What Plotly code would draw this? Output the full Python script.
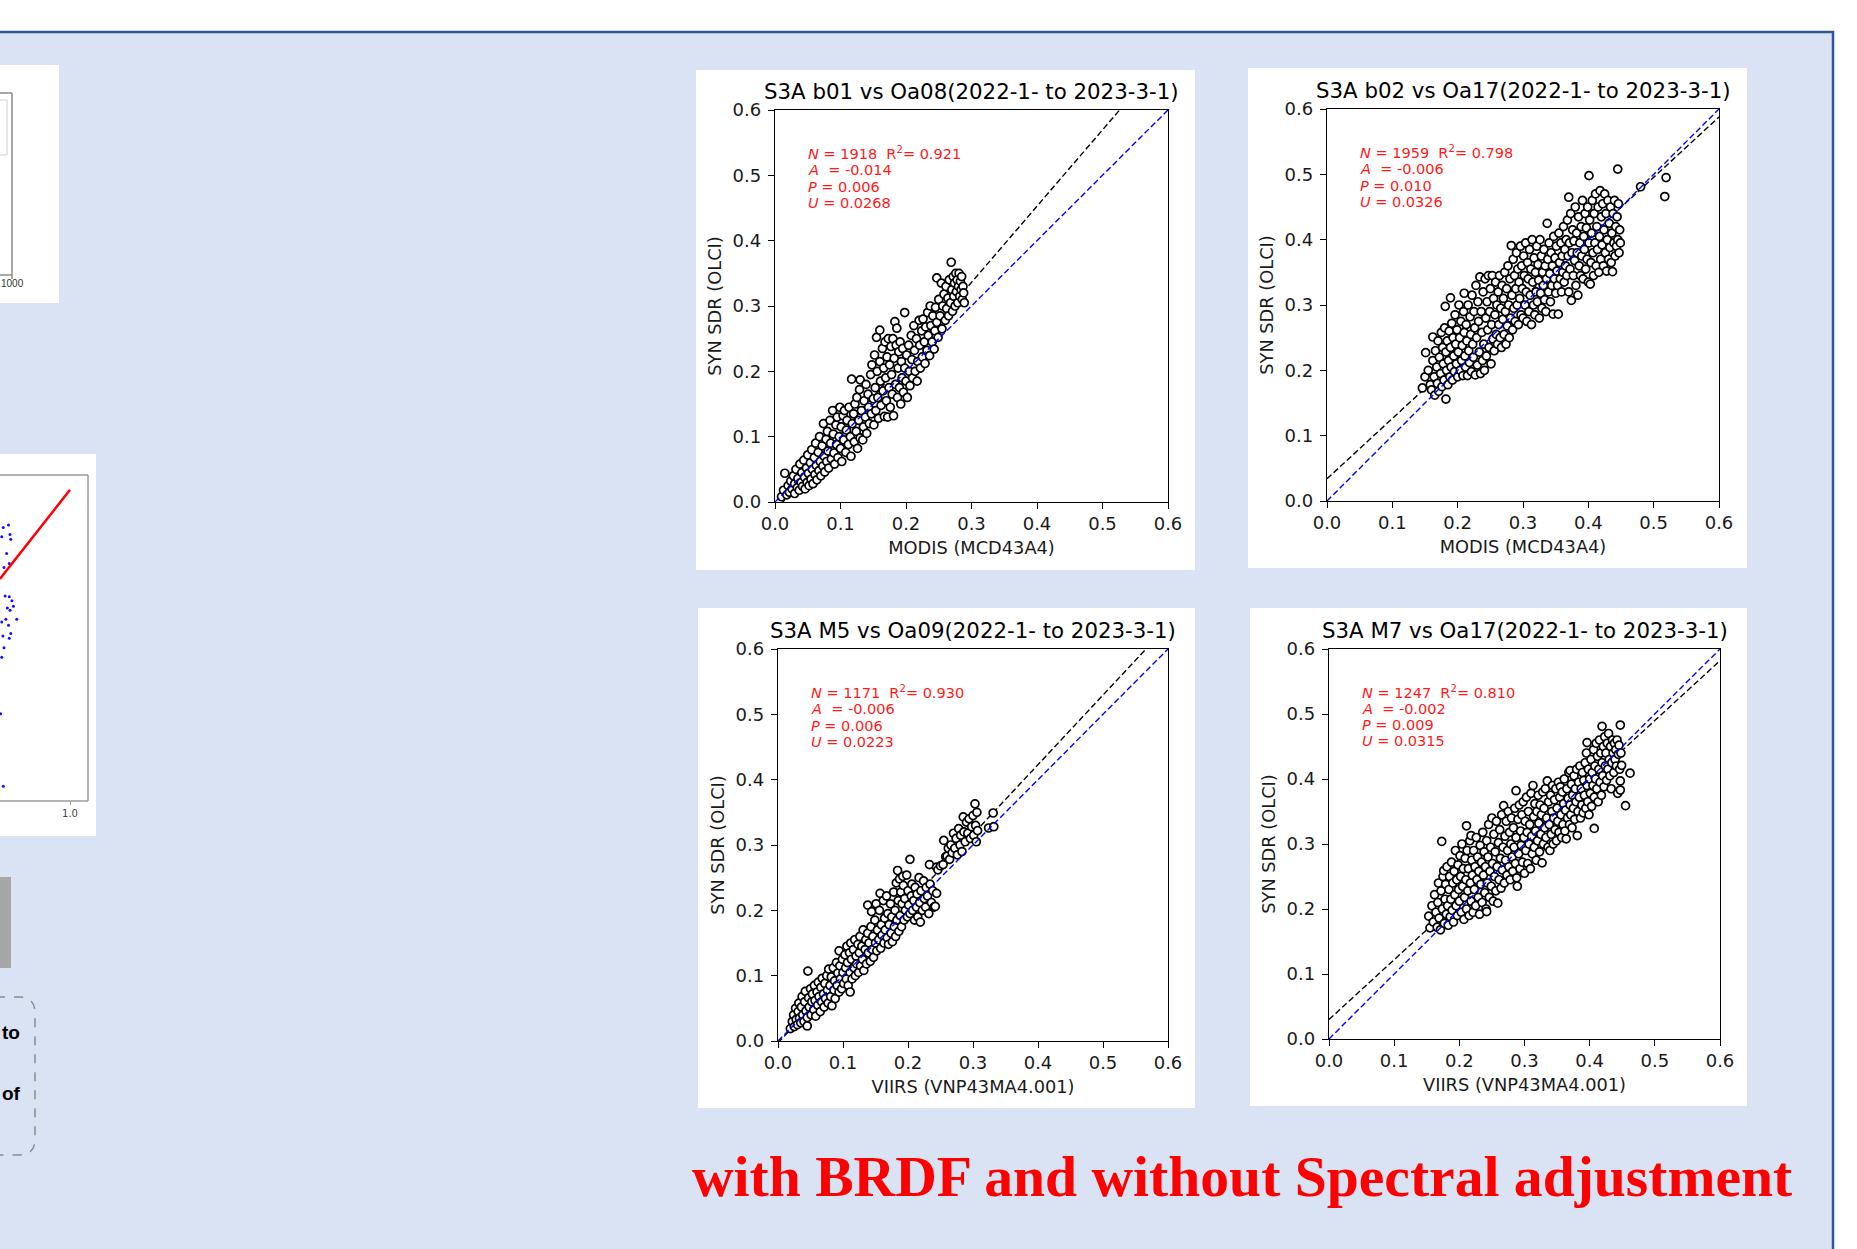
import plotly.graph_objects as go

W, H = 1857, 1249

# ---------------- data ----------------
panel_titles = [
    "S3A b01 vs Oa08(2022-1- to 2023-3-1)",
    "S3A b02 vs Oa17(2022-1- to 2023-3-1)",
    "S3A M5 vs Oa09(2022-1- to 2023-3-1)",
    "S3A M7 vs Oa17(2022-1- to 2023-3-1)",
]
x_titles = ["MODIS (MCD43A4)", "MODIS (MCD43A4)", "VIIRS (VNP43MA4.001)", "VIIRS (VNP43MA4.001)"]
y_title = "SYN SDR (OLCI)"
tick_values = [0.0, 0.1, 0.2, 0.3, 0.4, 0.5, 0.6]

stats_N = ["1918", "1959", "1171", "1247"]
stats_R2 = ["0.921", "0.798", "0.930", "0.810"]
stats_A = ["-0.014", "-0.006", "-0.006", "-0.002"]
stats_P = ["0.006", "0.010", "0.006", "0.009"]
stats_U = ["0.0268", "0.0326", "0.0223", "0.0315"]

fit_slope = [1.167, 0.923, 1.065, 0.920]
fit_intercept = [-0.014, 0.034, -0.003, 0.030]

caption = "with BRDF and without Spectral adjustment"

b01_points = [
(0.010,0.008),(0.013,0.018),(0.015,0.044),(0.018,0.011),(0.020,0.025),(0.022,0.015),(0.024,0.032),(0.026,0.020),(0.028,0.040),(0.030,0.013),
(0.030,0.028),(0.032,0.050),(0.034,0.022),(0.035,0.036),(0.037,0.018),(0.038,0.058),(0.040,0.030),(0.041,0.045),(0.042,0.024),(0.044,0.064),
(0.045,0.038),(0.046,0.020),(0.048,0.052),(0.049,0.030),(0.050,0.072),(0.051,0.044),(0.052,0.025),(0.054,0.060),(0.055,0.035),(0.056,0.080),
(0.057,0.050),(0.058,0.028),(0.060,0.068),(0.061,0.042),(0.062,0.090),(0.063,0.056),(0.064,0.034),(0.066,0.076),(0.067,0.048),(0.068,0.100),
(0.069,0.062),(0.070,0.040),(0.072,0.086),(0.073,0.055),(0.074,0.120),(0.075,0.070),(0.076,0.046),(0.078,0.096),(0.079,0.062),(0.080,0.108),
(0.081,0.078),(0.082,0.052),(0.084,0.125),(0.085,0.090),(0.086,0.066),(0.088,0.140),(0.089,0.104),(0.090,0.075),(0.091,0.058),(0.093,0.118),
(0.094,0.088),(0.095,0.130),(0.096,0.068),(0.098,0.100),(0.099,0.145),(0.100,0.082),(0.101,0.115),(0.102,0.062),(0.104,0.132),(0.105,0.095),
(0.106,0.140),(0.108,0.076),(0.109,0.110),(0.110,0.125),(0.112,0.088),(0.113,0.145),(0.115,0.100),(0.116,0.070),(0.117,0.188),(0.118,0.120),
(0.120,0.135),(0.121,0.092),(0.122,0.150),(0.124,0.108),(0.125,0.160),(0.126,0.082),(0.128,0.125),(0.129,0.172),(0.130,0.187),(0.130,0.098),
(0.132,0.140),(0.134,0.095),(0.135,0.115),(0.136,0.155),(0.138,0.130),(0.139,0.180),(0.140,0.105),(0.142,0.165),(0.143,0.145),(0.144,0.120),
(0.146,0.195),(0.147,0.135),(0.148,0.210),(0.150,0.158),(0.151,0.118),(0.152,0.225),(0.153,0.175),(0.154,0.140),(0.155,0.252),(0.156,0.200),
(0.157,0.160),(0.158,0.128),(0.160,0.263),(0.160,0.215),(0.161,0.185),(0.162,0.148),(0.164,0.235),(0.165,0.170),(0.166,0.205),(0.167,0.131),
(0.168,0.245),(0.169,0.190),(0.170,0.155),(0.171,0.222),(0.172,0.130),(0.173,0.250),(0.174,0.175),(0.175,0.210),(0.176,0.145),(0.177,0.238),
(0.178,0.195),(0.179,0.165),(0.180,0.250),(0.181,0.132),(0.182,0.220),(0.183,0.276),(0.184,0.180),(0.185,0.240),(0.186,0.266),(0.187,0.160),
(0.188,0.205),(0.189,0.230),(0.190,0.175),(0.191,0.245),(0.192,0.150),(0.193,0.215),(0.194,0.190),(0.195,0.235),(0.196,0.168),(0.198,0.290),
(0.198,0.205),(0.200,0.185),(0.201,0.225),(0.202,0.160),(0.204,0.240),(0.205,0.200),(0.206,0.178),(0.208,0.255),(0.209,0.218),(0.210,0.190),
(0.212,0.270),(0.213,0.232),(0.214,0.200),(0.216,0.250),(0.217,0.185),(0.218,0.215),(0.220,0.278),(0.221,0.240),(0.222,0.205),(0.224,0.262),
(0.225,0.222),(0.226,0.280),(0.228,0.245),(0.229,0.212),(0.230,0.268),(0.232,0.232),(0.233,0.290),(0.234,0.255),(0.236,0.224),(0.237,0.300),
(0.238,0.270),(0.240,0.245),(0.241,0.285),(0.243,0.234),(0.244,0.262),(0.245,0.298),(0.247,0.343),(0.247,0.275),(0.249,0.252),(0.250,0.310),
(0.252,0.285),(0.254,0.335),(0.255,0.265),(0.256,0.300),(0.258,0.318),(0.260,0.278),(0.261,0.330),(0.262,0.296),(0.264,0.312),(0.265,0.285),
(0.266,0.340),(0.268,0.305),(0.269,0.367),(0.270,0.325),(0.271,0.292),(0.272,0.345),(0.273,0.315),(0.274,0.335),(0.275,0.300),(0.276,0.350),
(0.277,0.322),(0.278,0.340),(0.279,0.305),(0.280,0.330),(0.281,0.350),(0.282,0.315),(0.283,0.338),(0.284,0.325),(0.285,0.345),(0.286,0.310),
(0.287,0.330),(0.288,0.320),(0.289,0.305),
]

b02_points = [
(0.146,0.173),(0.151,0.227),(0.150,0.190),(0.155,0.200),(0.158,0.178),(0.160,0.170),(0.162,0.251),(0.162,0.215),(0.164,0.190),(0.165,0.162),
(0.166,0.230),(0.168,0.205),(0.169,0.180),(0.170,0.245),(0.171,0.168),(0.172,0.220),(0.174,0.195),(0.175,0.258),(0.176,0.175),(0.177,0.235),
(0.178,0.210),(0.179,0.185),(0.180,0.265),(0.181,0.298),(0.182,0.156),(0.182,0.228),(0.183,0.200),(0.184,0.245),(0.185,0.178),(0.186,0.215),
(0.187,0.260),(0.188,0.190),(0.189,0.311),(0.189,0.235),(0.190,0.205),(0.191,0.272),(0.192,0.185),(0.193,0.250),(0.194,0.222),(0.195,0.198),
(0.196,0.285),(0.197,0.240),(0.198,0.210),(0.199,0.262),(0.200,0.190),(0.201,0.228),(0.202,0.300),(0.203,0.250),(0.204,0.200),(0.205,0.275),
(0.206,0.215),(0.207,0.238),(0.208,0.192),(0.209,0.290),(0.210,0.318),(0.210,0.258),(0.211,0.222),(0.212,0.205),(0.213,0.270),(0.214,0.245),
(0.215,0.192),(0.216,0.300),(0.217,0.230),(0.218,0.212),(0.219,0.282),(0.220,0.255),(0.221,0.198),(0.222,0.315),(0.223,0.240),(0.224,0.220),
(0.225,0.290),(0.226,0.265),(0.227,0.193),(0.228,0.330),(0.229,0.250),(0.230,0.208),(0.231,0.305),(0.232,0.275),(0.233,0.228),(0.234,0.343),
(0.235,0.195),(0.236,0.290),(0.237,0.258),(0.238,0.215),(0.239,0.320),(0.240,0.240),(0.241,0.200),(0.242,0.340),(0.243,0.280),(0.244,0.222),
(0.245,0.305),(0.246,0.262),(0.247,0.345),(0.248,0.235),(0.249,0.290),(0.250,0.325),(0.251,0.210),(0.252,0.270),(0.253,0.345),(0.254,0.248),
(0.255,0.310),(0.256,0.230),(0.257,0.285),(0.258,0.335),(0.259,0.255),(0.260,0.300),(0.261,0.240),(0.262,0.320),(0.263,0.270),(0.264,0.345),
(0.265,0.250),(0.266,0.295),(0.267,0.235),(0.268,0.330),(0.269,0.278),(0.270,0.310),(0.271,0.255),(0.272,0.350),(0.273,0.290),(0.274,0.240),
(0.275,0.325),(0.276,0.268),(0.277,0.360),(0.278,0.300),(0.279,0.250),(0.280,0.340),(0.281,0.280),(0.282,0.391),(0.283,0.315),(0.284,0.262),
(0.285,0.370),(0.286,0.295),(0.287,0.345),(0.288,0.275),(0.289,0.325),(0.290,0.380),(0.291,0.300),(0.292,0.355),(0.293,0.270),(0.294,0.335),
(0.295,0.310),(0.296,0.390),(0.297,0.285),(0.298,0.360),(0.299,0.325),(0.300,0.280),(0.301,0.375),(0.302,0.345),(0.303,0.300),(0.304,0.395),
(0.305,0.320),(0.306,0.275),(0.307,0.365),(0.308,0.340),(0.309,0.290),(0.310,0.385),(0.311,0.315),(0.312,0.355),(0.313,0.270),(0.314,0.400),
(0.315,0.335),(0.316,0.300),(0.317,0.372),(0.318,0.285),(0.319,0.350),(0.320,0.320),(0.321,0.390),(0.322,0.305),(0.323,0.362),(0.324,0.338),
(0.325,0.280),(0.326,0.400),(0.327,0.318),(0.328,0.375),(0.329,0.295),(0.330,0.350),(0.331,0.330),(0.332,0.385),(0.333,0.308),(0.334,0.360),
(0.335,0.290),(0.336,0.340),(0.337,0.425),(0.338,0.370),(0.339,0.320),(0.340,0.395),(0.341,0.348),(0.342,0.305),(0.343,0.380),(0.344,0.330),
(0.345,0.360),(0.346,0.286),(0.347,0.405),(0.348,0.340),(0.349,0.372),(0.350,0.318),(0.351,0.390),(0.352,0.352),(0.353,0.330),(0.354,0.286),
(0.355,0.410),(0.356,0.365),(0.357,0.340),(0.358,0.395),(0.359,0.320),(0.360,0.375),(0.361,0.350),(0.362,0.420),(0.363,0.335),(0.364,0.385),
(0.365,0.360),(0.366,0.400),(0.367,0.345),(0.368,0.430),(0.369,0.375),(0.370,0.465),(0.370,0.320),(0.371,0.395),(0.372,0.355),(0.373,0.440),
(0.374,0.307),(0.375,0.380),(0.376,0.415),(0.377,0.345),(0.378,0.398),(0.379,0.368),(0.380,0.450),(0.381,0.330),(0.382,0.410),(0.383,0.380),
(0.384,0.315),(0.385,0.435),(0.386,0.360),(0.387,0.395),(0.388,0.345),(0.389,0.420),(0.390,0.375),(0.391,0.460),(0.392,0.340),(0.393,0.405),
(0.394,0.385),(0.395,0.440),(0.396,0.355),(0.397,0.418),(0.398,0.370),(0.399,0.450),(0.400,0.335),(0.401,0.498),(0.401,0.395),(0.402,0.430),
(0.403,0.332),(0.404,0.365),(0.405,0.410),(0.406,0.460),(0.407,0.380),(0.408,0.345),(0.409,0.440),(0.410,0.395),(0.411,0.470),(0.412,0.360),
(0.413,0.420),(0.414,0.385),(0.415,0.450),(0.416,0.350),(0.417,0.405),(0.418,0.475),(0.419,0.370),(0.420,0.435),(0.421,0.392),(0.422,0.455),
(0.423,0.360),(0.424,0.415),(0.425,0.470),(0.426,0.380),(0.427,0.440),(0.428,0.352),(0.429,0.400),(0.430,0.460),(0.431,0.370),(0.432,0.425),
(0.433,0.388),(0.434,0.450),(0.435,0.365),(0.436,0.410),(0.437,0.351),(0.438,0.440),(0.439,0.395),(0.440,0.460),(0.441,0.375),(0.442,0.420),
(0.443,0.390),(0.444,0.435),(0.445,0.508),(0.445,0.400),(0.446,0.455),(0.447,0.380),(0.448,0.415),(0.449,0.395),(0.480,0.481),(0.517,0.466),
(0.519,0.495),
]

m5_points = [
(0.019,0.019),(0.022,0.030),(0.024,0.040),(0.025,0.022),(0.027,0.050),(0.028,0.033),(0.030,0.025),(0.031,0.045),(0.032,0.058),(0.033,0.035),
(0.035,0.028),(0.036,0.052),(0.037,0.068),(0.038,0.040),(0.040,0.030),(0.041,0.060),(0.042,0.076),(0.043,0.046),(0.045,0.023),(0.045,0.036),
(0.046,0.107),(0.047,0.066),(0.048,0.052),(0.050,0.080),(0.051,0.040),(0.052,0.060),(0.053,0.072),(0.055,0.048),(0.056,0.085),(0.057,0.062),
(0.058,0.038),(0.060,0.075),(0.061,0.055),(0.062,0.090),(0.063,0.068),(0.065,0.045),(0.066,0.082),(0.067,0.060),(0.068,0.096),(0.070,0.072),
(0.071,0.052),(0.072,0.088),(0.073,0.065),(0.075,0.100),(0.076,0.078),(0.077,0.058),(0.078,0.110),(0.080,0.085),(0.081,0.068),(0.082,0.098),
(0.083,0.054),(0.085,0.112),(0.086,0.078),(0.087,0.092),(0.088,0.065),(0.090,0.120),(0.091,0.085),(0.092,0.104),(0.094,0.138),(0.094,0.075),
(0.095,0.115),(0.096,0.095),(0.098,0.080),(0.099,0.125),(0.100,0.105),(0.101,0.088),(0.103,0.132),(0.104,0.112),(0.105,0.095),(0.106,0.145),
(0.107,0.120),(0.108,0.085),(0.110,0.135),(0.111,0.075),(0.111,0.105),(0.112,0.150),(0.113,0.125),(0.114,0.095),(0.116,0.140),(0.117,0.112),
(0.118,0.155),(0.119,0.100),(0.120,0.130),(0.121,0.118),(0.123,0.148),(0.124,0.105),(0.125,0.135),(0.126,0.160),(0.127,0.115),(0.129,0.145),
(0.130,0.125),(0.131,0.170),(0.132,0.108),(0.134,0.140),(0.135,0.155),(0.136,0.118),(0.138,0.208),(0.138,0.165),(0.139,0.135),(0.140,0.150),
(0.142,0.122),(0.143,0.175),(0.144,0.198),(0.145,0.140),(0.146,0.160),(0.147,0.128),(0.149,0.185),(0.150,0.150),(0.151,0.210),(0.152,0.138),
(0.153,0.170),(0.155,0.155),(0.156,0.200),(0.157,0.226),(0.158,0.142),(0.159,0.178),(0.160,0.162),(0.162,0.215),(0.163,0.150),(0.164,0.188),
(0.165,0.170),(0.167,0.222),(0.168,0.158),(0.169,0.195),(0.170,0.148),(0.171,0.178),(0.173,0.210),(0.174,0.165),(0.175,0.190),(0.176,0.152),
(0.178,0.228),(0.179,0.175),(0.180,0.200),(0.181,0.160),(0.182,0.242),(0.183,0.185),(0.184,0.261),(0.185,0.215),(0.186,0.168),(0.187,0.248),
(0.188,0.192),(0.189,0.228),(0.190,0.175),(0.191,0.210),(0.192,0.252),(0.193,0.238),(0.194,0.185),(0.195,0.218),(0.196,0.200),(0.198,0.254),
(0.199,0.190),(0.200,0.230),(0.201,0.208),(0.203,0.278),(0.203,0.195),(0.205,0.222),(0.206,0.240),(0.207,0.200),(0.209,0.215),(0.210,0.185),
(0.211,0.235),(0.213,0.205),(0.214,0.225),(0.215,0.190),(0.217,0.250),(0.218,0.212),(0.219,0.182),(0.220,0.230),(0.222,0.200),(0.224,0.245),
(0.225,0.218),(0.227,0.205),(0.228,0.235),(0.230,0.222),(0.232,0.195),(0.233,0.270),(0.234,0.240),(0.236,0.212),(0.238,0.230),(0.240,0.205),
(0.242,0.206),(0.244,0.266),(0.244,0.226),(0.246,0.262),(0.250,0.268),(0.254,0.270),(0.255,0.307),(0.258,0.282),(0.260,0.283),(0.262,0.295),
(0.264,0.278),(0.266,0.300),(0.268,0.288),(0.270,0.318),(0.272,0.295),(0.274,0.310),(0.276,0.285),(0.278,0.325),(0.280,0.300),(0.281,0.315),
(0.283,0.290),(0.285,0.343),(0.286,0.320),(0.288,0.305),(0.290,0.335),(0.292,0.318),(0.294,0.340),(0.296,0.310),(0.298,0.328),(0.300,0.345),
(0.301,0.315),(0.303,0.363),(0.304,0.330),(0.305,0.305),(0.306,0.350),(0.307,0.322),(0.324,0.326),(0.331,0.349),(0.332,0.328),
]

m7_points = [
(0.153,0.189),(0.155,0.171),(0.158,0.205),(0.160,0.180),(0.162,0.222),(0.164,0.195),(0.166,0.172),(0.167,0.210),(0.168,0.240),(0.169,0.186),
(0.171,0.168),(0.172,0.228),(0.173,0.304),(0.174,0.200),(0.175,0.250),(0.176,0.259),(0.177,0.178),(0.178,0.215),(0.179,0.238),(0.180,0.192),
(0.181,0.265),(0.182,0.205),(0.183,0.175),(0.184,0.230),(0.185,0.250),(0.186,0.188),(0.187,0.215),(0.188,0.272),(0.189,0.198),(0.190,0.240),
(0.191,0.180),(0.192,0.258),(0.193,0.222),(0.194,0.290),(0.195,0.205),(0.196,0.245),(0.197,0.190),(0.198,0.268),(0.199,0.230),(0.200,0.212),
(0.201,0.282),(0.202,0.250),(0.203,0.195),(0.204,0.300),(0.205,0.235),(0.206,0.262),(0.207,0.184),(0.208,0.218),(0.209,0.278),(0.210,0.245),
(0.211,0.328),(0.211,0.200),(0.212,0.290),(0.213,0.228),(0.214,0.262),(0.215,0.190),(0.216,0.305),(0.217,0.240),(0.218,0.313),(0.218,0.212),
(0.219,0.275),(0.220,0.252),(0.221,0.195),(0.222,0.290),(0.223,0.230),(0.224,0.265),(0.225,0.205),(0.226,0.310),(0.227,0.245),(0.228,0.280),
(0.229,0.218),(0.230,0.258),(0.231,0.192),(0.232,0.298),(0.233,0.238),(0.234,0.272),(0.235,0.210),(0.236,0.318),(0.237,0.252),(0.238,0.288),
(0.239,0.225),(0.240,0.265),(0.241,0.200),(0.242,0.305),(0.242,0.196),(0.243,0.240),(0.244,0.280),(0.245,0.330),(0.246,0.218),(0.247,0.258),
(0.248,0.295),(0.249,0.235),(0.250,0.340),(0.251,0.270),(0.252,0.212),(0.253,0.315),(0.254,0.250),(0.255,0.288),(0.256,0.228),(0.257,0.335),
(0.258,0.265),(0.259,0.209),(0.260,0.302),(0.261,0.245),(0.262,0.322),(0.263,0.278),(0.264,0.232),(0.265,0.345),(0.266,0.260),(0.267,0.295),
(0.268,0.359),(0.269,0.240),(0.270,0.312),(0.271,0.275),(0.272,0.335),(0.273,0.252),(0.274,0.290),(0.275,0.350),(0.276,0.265),(0.277,0.318),
(0.278,0.245),(0.279,0.300),(0.280,0.340),(0.281,0.280),(0.282,0.258),(0.283,0.325),(0.284,0.295),(0.285,0.355),(0.286,0.270),(0.287,0.382),
(0.287,0.310),(0.288,0.248),(0.289,0.235),(0.290,0.338),(0.291,0.285),(0.292,0.360),(0.293,0.262),(0.294,0.320),(0.295,0.298),(0.296,0.345),
(0.297,0.272),(0.298,0.365),(0.299,0.310),(0.300,0.255),(0.301,0.335),(0.302,0.290),(0.303,0.372),(0.304,0.318),(0.305,0.270),(0.306,0.350),
(0.307,0.300),(0.308,0.330),(0.309,0.262),(0.310,0.378),(0.311,0.312),(0.312,0.285),(0.313,0.390),(0.314,0.342),(0.315,0.295),(0.316,0.362),
(0.317,0.320),(0.318,0.275),(0.319,0.350),(0.320,0.305),(0.321,0.375),(0.322,0.332),(0.323,0.288),(0.324,0.360),(0.325,0.315),(0.326,0.345),
(0.327,0.271),(0.328,0.380),(0.329,0.300),(0.330,0.355),(0.331,0.325),(0.332,0.385),(0.333,0.310),(0.334,0.340),(0.335,0.397),(0.336,0.295),
(0.337,0.365),(0.338,0.330),(0.339,0.290),(0.340,0.375),(0.341,0.315),(0.342,0.350),(0.343,0.390),(0.344,0.300),(0.345,0.340),(0.346,0.368),
(0.347,0.322),(0.348,0.385),(0.349,0.305),(0.350,0.355),(0.351,0.335),(0.352,0.395),(0.353,0.318),(0.354,0.372),(0.355,0.388),(0.356,0.345),
(0.357,0.310),(0.358,0.380),(0.359,0.330),(0.360,0.362),(0.361,0.400),(0.362,0.320),(0.363,0.352),(0.364,0.308),(0.365,0.385),(0.366,0.340),
(0.367,0.370),(0.368,0.410),(0.369,0.330),(0.370,0.413),(0.370,0.360),(0.371,0.345),(0.372,0.392),(0.373,0.325),(0.374,0.375),(0.375,0.355),
(0.376,0.405),(0.377,0.338),(0.378,0.385),(0.379,0.365),(0.380,0.415),(0.381,0.313),(0.382,0.350),(0.383,0.395),(0.384,0.372),(0.385,0.420),
(0.386,0.340),(0.387,0.385),(0.388,0.360),(0.389,0.410),(0.390,0.348),(0.391,0.398),(0.392,0.375),(0.393,0.425),(0.394,0.355),(0.395,0.440),
(0.396,0.456),(0.396,0.390),(0.397,0.365),(0.398,0.415),(0.399,0.345),(0.400,0.400),(0.401,0.378),(0.402,0.430),(0.403,0.358),(0.404,0.410),
(0.405,0.390),(0.406,0.445),(0.407,0.324),(0.407,0.372),(0.408,0.420),(0.409,0.400),(0.410,0.455),(0.411,0.385),(0.412,0.435),(0.413,0.365),
(0.414,0.415),(0.415,0.460),(0.416,0.395),(0.417,0.440),(0.418,0.375),(0.419,0.481),(0.419,0.425),(0.420,0.405),(0.421,0.450),(0.422,0.388),
(0.423,0.465),(0.424,0.420),(0.425,0.440),(0.426,0.398),(0.427,0.455),(0.428,0.415),(0.429,0.470),(0.430,0.430),(0.431,0.405),(0.432,0.450),
(0.433,0.385),(0.434,0.425),(0.435,0.460),(0.436,0.440),(0.437,0.410),(0.438,0.455),(0.439,0.430),(0.440,0.445),(0.441,0.420),(0.442,0.460),
(0.443,0.378),(0.444,0.438),(0.445,0.452),(0.446,0.415),(0.447,0.483),(0.447,0.397),(0.447,0.383),(0.448,0.440),(0.449,0.421),(0.455,0.359),
(0.462,0.409),
]

# partially visible slide fragment on the left (cut-off chart)
frag_dots_x = [0.836,0.822,0.840,0.842,0.818,0.831,0.838,0.824,0.827,0.838,0.845,0.849,0.833,0.840,0.858,0.829,0.818,0.836,0.842,0.821,0.838,0.824,0.818,0.815,0.822]
frag_dots_y = [0.881,0.873,0.849,0.833,0.842,0.785,0.751,0.738,0.642,0.639,0.626,0.607,0.601,0.594,0.563,0.563,0.554,0.543,0.515,0.507,0.499,0.467,0.435,0.244,0.000]
frag_line_x = [0.813, 1.0]
frag_line_y = [0.699, 1.0]

all_points = [b01_points, b02_points, m5_points, m7_points]

# ---------------- layout helpers (positions in window pixels) ----------------
def fx(px):
    return px / W

def fy(py):
    return 1 - py / H

# white card (x0,y0,x1,y1) and plot area (x0,y0,x1,y1) in pixels
cards = [(696, 70, 1195, 570), (1248, 68, 1747, 568), (698, 608, 1195, 1108), (1250, 608, 1747, 1106)]
plots = [(775, 110, 1168, 502), (1327, 109, 1719, 501), (778, 649, 1168, 1041), (1329, 649, 1720, 1039)]

FONT = "DejaVu Sans"
fig = go.Figure()
shapes = []
annotations = []

# slide background with blue border
shapes.append(dict(type="rect", xref="paper", yref="paper", x0=fx(-40), x1=fx(1833), y0=fy(32), y1=fy(1290),
                   fillcolor="#DAE3F3", line=dict(color="#2F5597", width=2.5), layer="below"))

for c in cards:
    shapes.append(dict(type="rect", xref="paper", yref="paper", x0=fx(c[0]), x1=fx(c[2]), y0=fy(c[3]), y1=fy(c[1]),
                       fillcolor="white", line=dict(width=0), layer="below"))

stat_line_y = [0.5337, 0.5082, 0.4827, 0.4582]

layout_axes = {}
for i in range(4):
    n = i + 1
    xa = "x" if n == 1 else f"x{n}"
    ya = "y" if n == 1 else f"y{n}"
    p = plots[i]
    pts = all_points[i]
    xs = [q[0] for q in pts]
    ys = [q[1] for q in pts]
    m, b = fit_slope[i], fit_intercept[i]
    fig.add_trace(go.Scatter(x=[0.0, 0.6], y=[b, m * 0.6 + b], mode="lines", xaxis=xa, yaxis=ya,
                             line=dict(color="black", width=1.4, dash="6px,3px"), hoverinfo="skip"))
    fig.add_trace(go.Scatter(x=xs, y=ys, mode="markers", xaxis=xa, yaxis=ya,
                             marker=dict(symbol="circle", size=8, color="white", line=dict(color="black", width=1.7))))
    fig.add_trace(go.Scatter(x=[0.0, 0.6], y=[0.0, 0.6], mode="lines", xaxis=xa, yaxis=ya,
                             line=dict(color="#0000FF", width=1.4, dash="6px,3px"), hoverinfo="skip"))
    common = dict(range=[0, 0.6], tickvals=tick_values, ticktext=[f"{v:.1f}" for v in tick_values],
                  showline=True, mirror=True, linecolor="black", linewidth=1.3, ticks="outside", ticklen=6,
                  tickwidth=1.3, tickcolor="black", showgrid=False, zeroline=False,
                  automargin=False, tickfont=dict(family=FONT, size=18, color="#1a1a1a"))
    layout_axes["xaxis" if n == 1 else f"xaxis{n}"] = dict(
        common, domain=[fx(p[0]), fx(p[2])], anchor=ya, ticklabelstandoff=-1,
        title=dict(text=x_titles[i], font=dict(family=FONT, size=17.8, color="#1a1a1a"), standoff=8))
    layout_axes["yaxis" if n == 1 else f"yaxis{n}"] = dict(
        common, domain=[fy(p[3]), fy(p[1])], anchor=xa, ticklabelstandoff=3,
        title=dict(text=y_title, font=dict(family=FONT, size=17.8, color="#1a1a1a"), standoff=6))
    # panel title
    annotations.append(dict(xref="paper", yref="paper", x=fx((p[0] + p[2]) / 2), y=fy(p[1] - 4),
                            xanchor="center", yanchor="bottom", showarrow=False, text=panel_titles[i],
                            font=dict(family=FONT, size=21.3, color="black")))
    # statistics text, one line each
    nb = "\u00a0"
    lines = [f"<i>N</i> = {stats_N[i]}{nb}{nb}R<sup>2</sup>= {stats_R2[i]}",
             f"<i>A</i>{nb} = {stats_A[i]}",
             f"<i>P</i> = {stats_P[i]}",
             f"<i>U</i> = {stats_U[i]}"]
    for k, t in enumerate(lines):
        annotations.append(dict(xref=xa, yref=ya, x=0.048, y=stat_line_y[k], xanchor="left", yanchor="middle",
                                align="left", showarrow=False, text=t,
                                font=dict(family=FONT, size=14.5, color="#FF1A1A")))

# ---------------- left fragments ----------------
# fragment A
shapes.append(dict(type="rect", xref="paper", yref="paper", x0=fx(-40), x1=fx(59), y0=fy(303), y1=fy(65),
                   fillcolor="white", line=dict(width=0), layer="below"))
for (x0, y0, x1, y1) in [(-5, 93, 12, 93), (12, 93, 12, 275), (-5, 275, 12, 275), (12, 275, 12, 279)]:
    shapes.append(dict(type="line", xref="paper", yref="paper", x0=fx(x0), x1=fx(x1), y0=fy(y0), y1=fy(y1),
                       line=dict(color="#8a8a8a", width=1.5)))
shapes.append(dict(type="rect", xref="paper", yref="paper", x0=fx(-10), x1=fx(7), y0=fy(155), y1=fy(100),
                   line=dict(color="#d0d0d0", width=1)))
annotations.append(dict(xref="paper", yref="paper", x=fx(12), y=fy(284), xanchor="center", yanchor="middle",
                        showarrow=False, text="1000", font=dict(family="Liberation Sans", size=10, color="#333")))

# fragment B
shapes.append(dict(type="rect", xref="paper", yref="paper", x0=fx(-40), x1=fx(96), y0=fy(836), y1=fy(454),
                   fillcolor="white", line=dict(width=0), layer="below"))
for (x0, y0, x1, y1) in [(-5, 475, 88, 475), (88, 475, 88, 801), (-5, 801, 88, 801)]:
    shapes.append(dict(type="line", xref="paper", yref="paper", x0=fx(x0), x1=fx(x1), y0=fy(y0), y1=fy(y1),
                       line=dict(color="#9a9a9a", width=1.5)))
fig.add_trace(go.Scatter(x=frag_dots_x, y=frag_dots_y, mode="markers", xaxis="x5", yaxis="y5",
                         marker=dict(size=3, color="#1010ff"), hoverinfo="skip", cliponaxis=False))
fig.add_trace(go.Scatter(x=frag_line_x, y=frag_line_y, mode="lines", xaxis="x5", yaxis="y5",
                         line=dict(color="#ff0000", width=2.5), hoverinfo="skip"))
layout_axes["xaxis5"] = dict(domain=[0, fx(88)], range=[0.8133, 1.048], anchor="y5", showgrid=False,
                             zeroline=False, showline=False, tickvals=[1.0], ticktext=["1.0"], ticks="outside",
                             ticklen=3, tickcolor="#9a9a9a", automargin=False,
                             tickfont=dict(family="DejaVu Sans", size=10, color="#444"))
layout_axes["yaxis5"] = dict(domain=[fy(801), fy(475)], range=[-0.05, 1.05], anchor="x5", showgrid=False,
                             zeroline=False, showline=False, showticklabels=False, ticks="", automargin=False)

# gray block
shapes.append(dict(type="rect", xref="paper", yref="paper", x0=fx(-40), x1=fx(11), y0=fy(968), y1=fy(877),
                   fillcolor="#A6A6A6", line=dict(width=0)))
# dashed rounded box
r = 16
xl, xr, yt, yb = -40, 35, 997, 1155
path = (f"M {fx(xl)},{fy(yt)} L {fx(xr - r)},{fy(yt)} Q {fx(xr)},{fy(yt)} {fx(xr)},{fy(yt + r)} "
        f"L {fx(xr)},{fy(yb - r)} Q {fx(xr)},{fy(yb)} {fx(xr - r)},{fy(yb)} L {fx(xl)},{fy(yb)}")
shapes.append(dict(type="path", xref="paper", yref="paper", path=path,
                   line=dict(color="#8c8c8c", width=1.5, dash="dash")))
annotations.append(dict(xref="paper", yref="paper", x=fx(0), y=fy(1032), xanchor="left", yanchor="middle",
                        showarrow=False, text="<b>to</b>", font=dict(family="Liberation Sans", size=19, color="black")))
annotations.append(dict(xref="paper", yref="paper", x=fx(0), y=fy(1093), xanchor="left", yanchor="middle",
                        showarrow=False, text="<b>of</b>", font=dict(family="Liberation Sans", size=19, color="black")))

# caption
annotations.append(dict(xref="paper", yref="paper", x=fx(1242), y=fy(1176), xanchor="center", yanchor="middle",
                        showarrow=False, text=f"<b>{caption}</b>",
                        font=dict(family="Liberation Serif", size=57.6, color="#FF0000")))

fig.update_layout(width=W, height=H, margin=dict(l=0, r=0, t=0, b=0, pad=0, autoexpand=False),
                  paper_bgcolor="white", plot_bgcolor="white", showlegend=False,
                  shapes=shapes, annotations=annotations, **layout_axes)

fig.write_html("out.html")
